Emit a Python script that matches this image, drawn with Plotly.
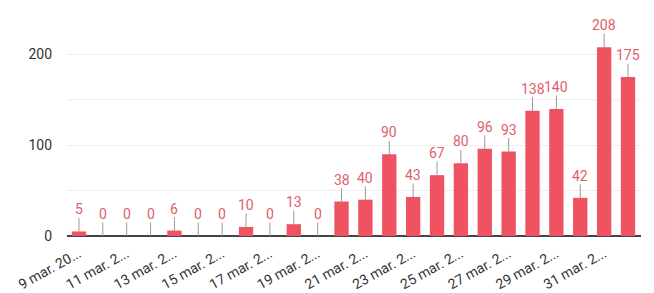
import plotly.graph_objects as go

dates = ["9 mar. 2020", "10 mar. 2020", "11 mar. 2020", "12 mar. 2020", "13 mar. 2020",
         "14 mar. 2020", "15 mar. 2020", "16 mar. 2020", "17 mar. 2020", "18 mar. 2020",
         "19 mar. 2020", "20 mar. 2020", "21 mar. 2020", "22 mar. 2020", "23 mar. 2020",
         "24 mar. 2020", "25 mar. 2020", "26 mar. 2020", "27 mar. 2020", "28 mar. 2020",
         "29 mar. 2020", "30 mar. 2020", "31 mar. 2020", "1 apr. 2020"]
values = [5, 0, 0, 0, 6, 0, 0, 10, 0, 13, 0, 38, 40, 90, 43, 67, 80, 96, 93, 138, 140, 42, 208, 175]
tick_dates = dates[::2]
tick_labels = ["9 mar. 20...", "11 mar. 2...", "13 mar. 2...", "15 mar. 2...", "17 mar. 2...",
               "19 mar. 2...", "21 mar. 2...", "23 mar. 2...", "25 mar. 2...", "27 mar. 2...",
               "29 mar. 2...", "31 mar. 2..."]
y_tickvals = [0, 50, 100, 150, 200, 250]
y_ticktext = ["0", "", "100", "", "200", ""]

bar_color = "#EF5361"
label_color = "#E0606C"

fig = go.Figure(go.Bar(x=dates, y=values, marker_color=bar_color, marker_line_width=0))

for d, v in zip(dates, values):
    fig.add_annotation(x=d, y=v, text=str(v), showarrow=True, arrowhead=0,
                       arrowwidth=1, arrowcolor="#9a9a9a", ax=0, ay=-22,
                       font=dict(family="Roboto", size=14, color=label_color),
                       borderpad=0, standoff=0)

fig.update_layout(
    width=646, height=285,
    margin=dict(l=59, r=13, t=1, b=57),
    paper_bgcolor="white", plot_bgcolor="white",
    bargap=0.4, showlegend=False,
    font=dict(family="Roboto", color="#333333"),
    xaxis=dict(type="category", tickmode="array", tickvals=tick_dates, ticktext=tick_labels,
               tickangle=-29, tickfont=dict(size=14, color="#333333"), showgrid=False,
               ticks="", showline=False, zeroline=False, automargin=False,
               ticklabelstandoff=6),
    yaxis=dict(range=[0, 250], tickmode="array", tickvals=y_tickvals, ticktext=y_ticktext,
               tickfont=dict(size=14, color="#333333"), showgrid=True, gridcolor="#efefef",
               gridwidth=1, zeroline=True, zerolinecolor="#444444", zerolinewidth=1.5,
               ticks="", ticklen=0, showline=False, automargin=False,
               ticklabelstandoff=14),
)

fig.write_html("out.html")
